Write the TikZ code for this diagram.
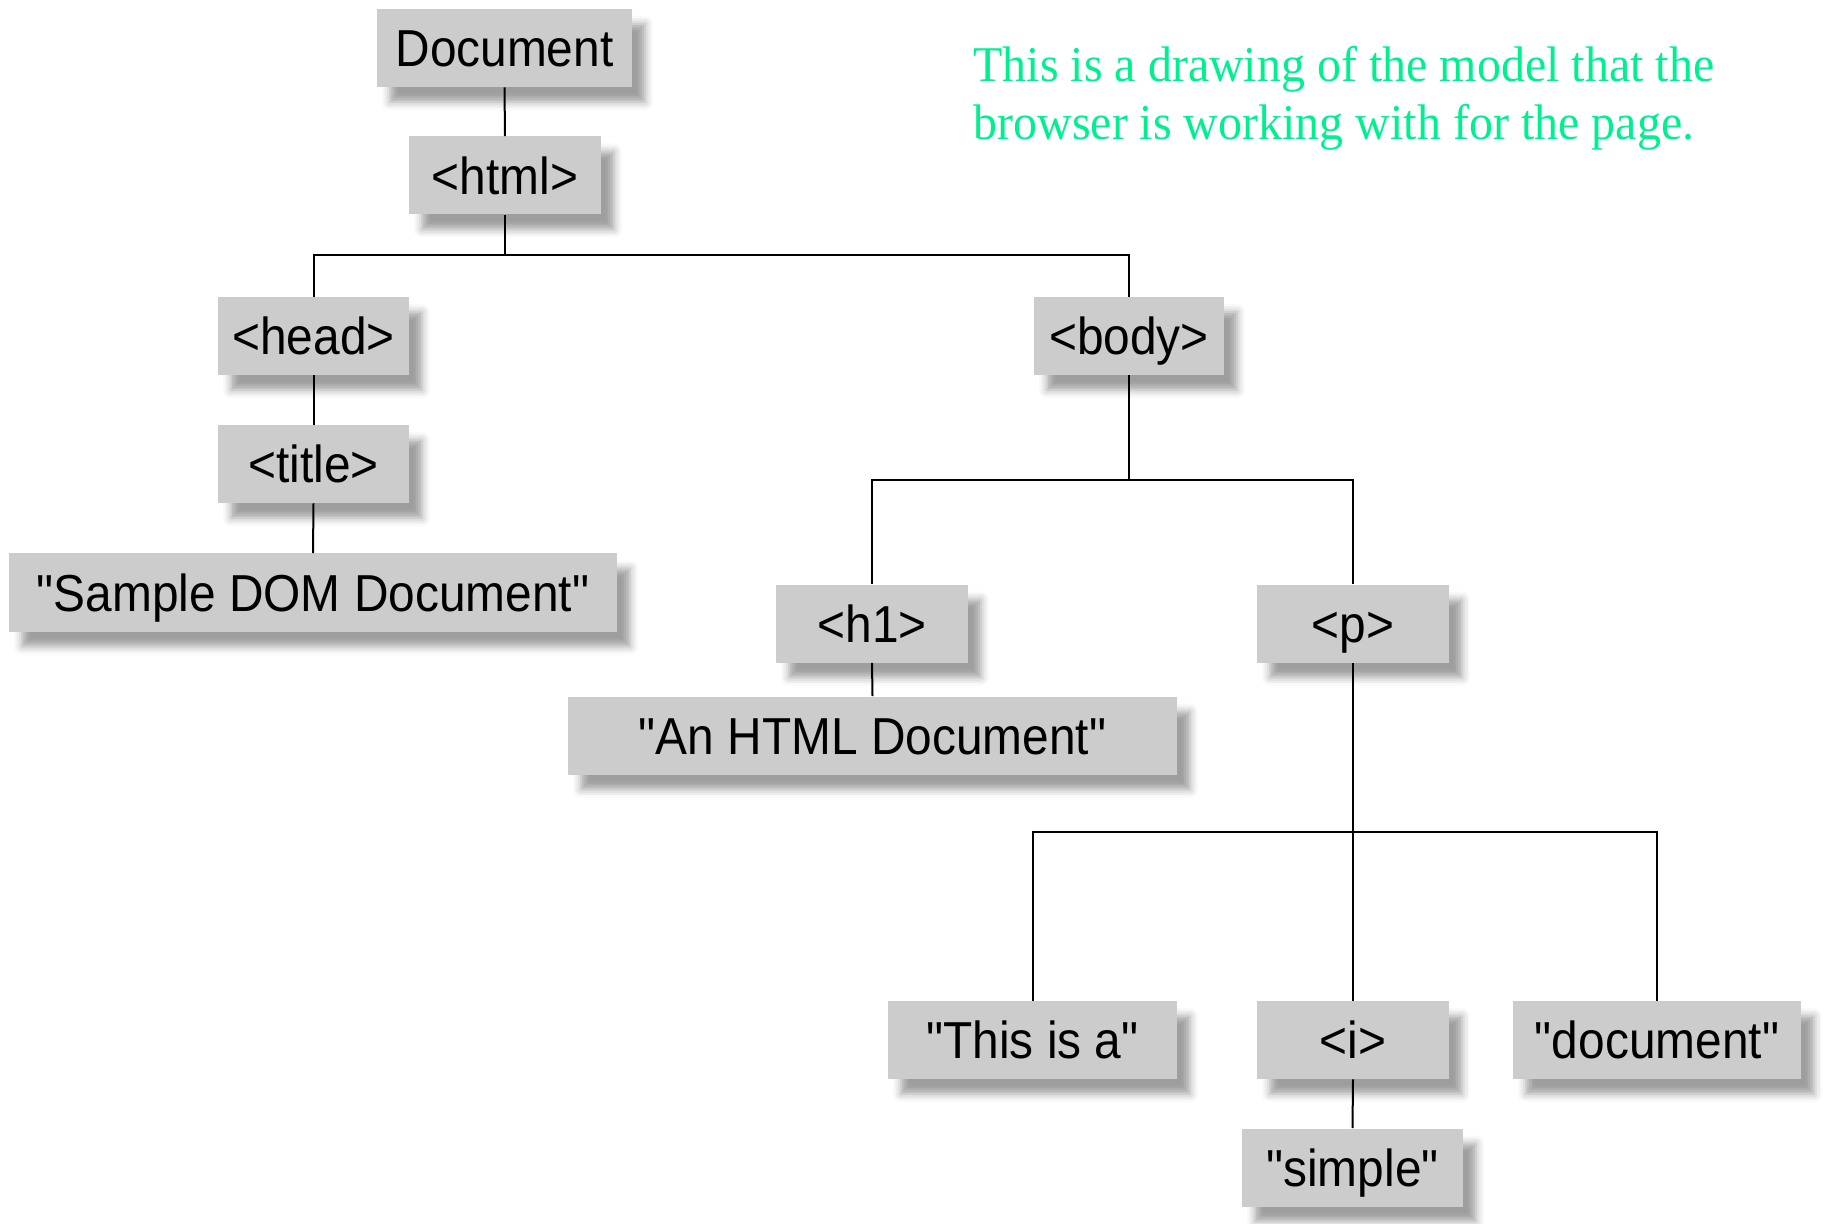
\documentclass[tikz,border=0pt]{standalone}
\usepackage{fontspec}
\setmainfont{Liberation Sans}[FakeStretch=0.92, Ligatures=TeXOff]
\newfontfamily\notefont{Liberation Serif}[FakeStretch=0.96]
\usetikzlibrary{shadows.blur}
\definecolor{boxgray}{RGB}{204,204,204}
\definecolor{notegreen}{RGB}{0,240,144}
\tikzset{
  domnode/.style={fill=boxgray, inner sep=0pt, minimum height=39pt,
    font=\fontsize{26pt}{30pt}\selectfont, text height=18.6pt, text depth=0pt,
    blur shadow={shadow xshift=6.5pt, shadow yshift=-7.5pt, shadow blur radius=4pt, shadow opacity=38}},
  link/.style={draw=black, line width=1pt}
}
\begin{document}
\begin{tikzpicture}[x=0.5pt,y=-0.5pt]
\useasboundingbox (0,0) rectangle (1825,1224);
% nodes
\node[domnode, minimum width=127.5pt] (doc)    at (504.5,48)   {Document};
\node[domnode, minimum width=96pt]    (html)   at (505,175.5)  {<html>};
\node[domnode, minimum width=95.5pt]  (head)   at (313.5,336)  {<head>};
\node[domnode, minimum width=95.5pt]  (title)  at (313.5,464)  {<title>};
\node[domnode, minimum width=304pt]   (sample) at (313,592.5)  {"Sample DOM Document"};
\node[domnode, minimum width=95pt]    (body)   at (1129,336)   {<body>};
\node[domnode, minimum width=96pt]    (h1)     at (872,623.5)  {<h1>};
\node[domnode, minimum width=96pt]    (p)      at (1353,623.5) {<p>};
\node[domnode, minimum width=304.5pt] (anhtml) at (872.5,735.5){"An HTML Document"};
\node[domnode, minimum width=144.5pt] (thisa)  at (1032.5,1040){"This is a"};
\node[domnode, minimum width=96pt]    (i)      at (1353,1040)  {<i>};
\node[domnode, minimum width=144pt]   (docw)   at (1657,1040)  {"document"};
\node[domnode, minimum width=110.5pt] (simple) at (1352.5,1167.5){"simple"};
% junctions
\coordinate (j1) at (505,255);
\coordinate (j2) at (1129,480);
\coordinate (j3) at (1353,832);
% connectors
\draw[link] (doc.south) -- (html.north);
\draw[link] (html.south) -- (j1);
\draw[link] (head.north) |- (j1) -| (body.north);
\draw[link] (head.south) -- (title.north);
\draw[link] (title.south) -- (sample.north);
\draw[link] (body.south) -- (j2);
\draw[link] (h1.north) |- (j2) -| (p.north);
\draw[link] (h1.south) -- (anhtml.north);
\draw[link] (p.south) -- (j3);
\draw[link] (thisa.north) |- (j3) -| (docw.north);
\draw[link] (j3) -- (i.north);
\draw[link] (i.south) -- (simple.north);
% note
\node[anchor=north west, inner sep=0pt, align=left, text=notegreen,
      font=\notefont\fontsize{25pt}{29pt}\selectfont] (note) at (973,46)
  {This is a drawing of the model that the\\browser is working with for the page.};
\end{tikzpicture}
\end{document}
